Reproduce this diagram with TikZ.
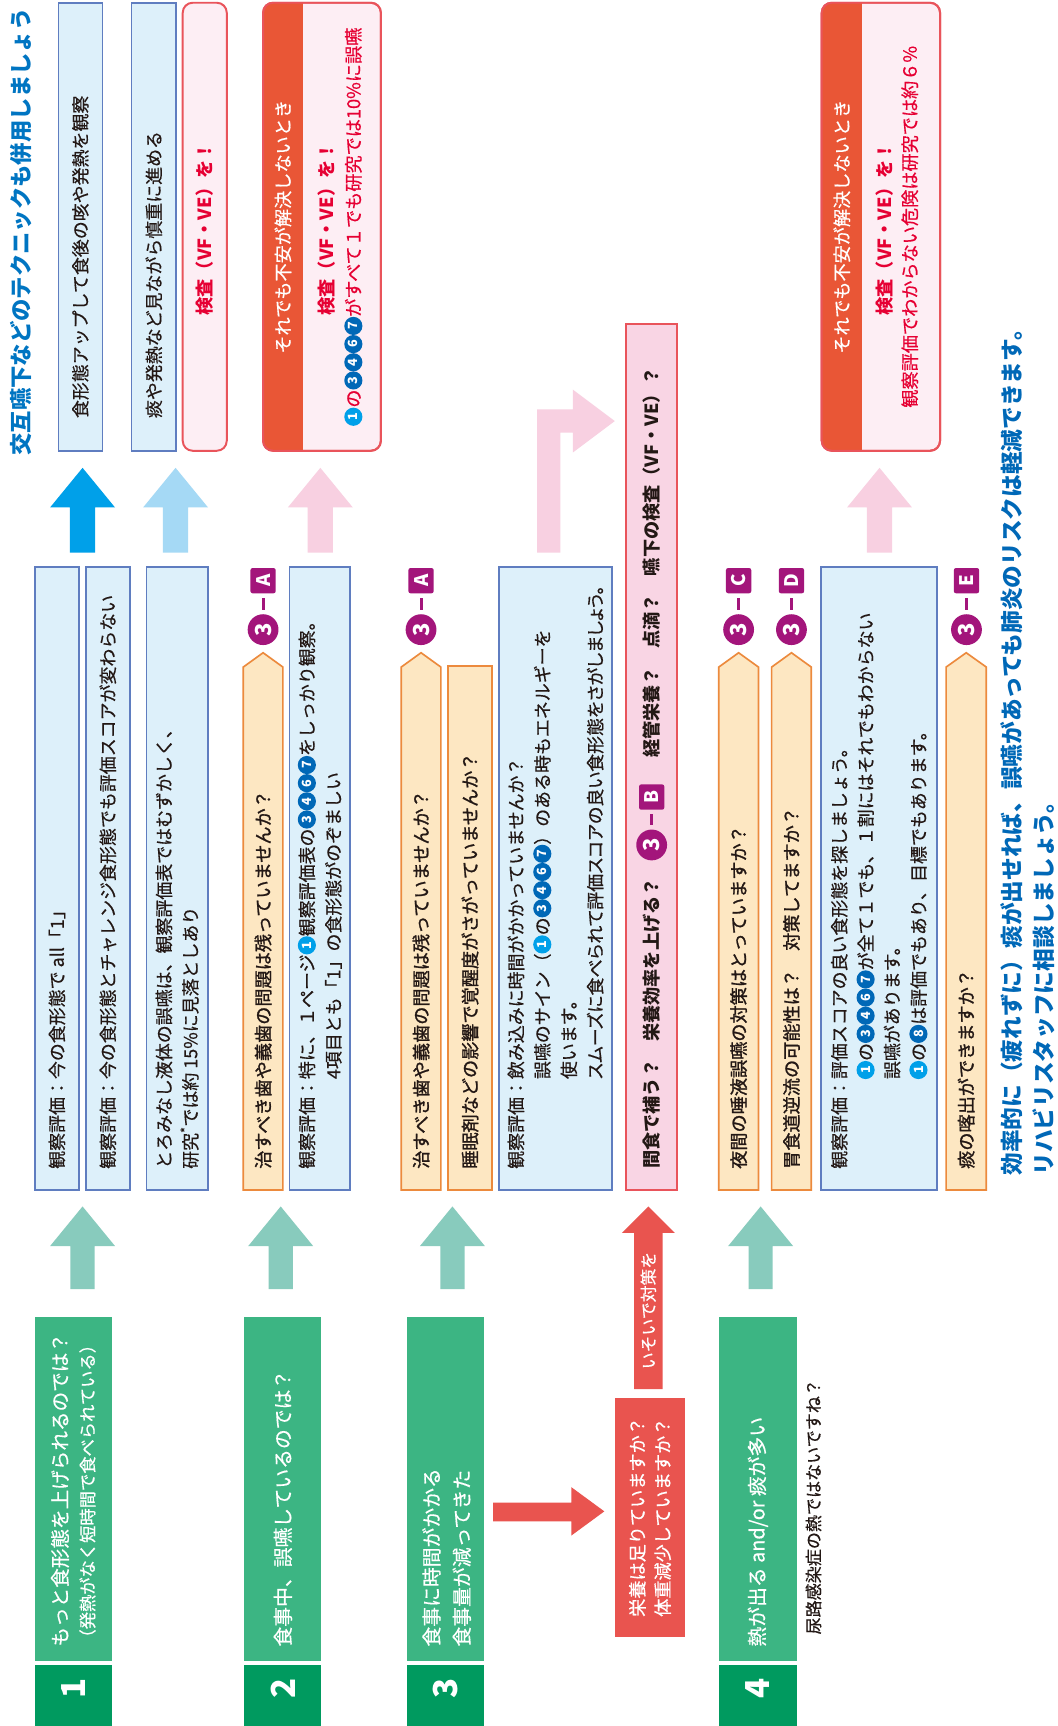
\documentclass[tikz,border=0pt]{standalone}
\usepackage{fontspec}
\setmainfont{Noto Sans CJK JP}[UprightFeatures={FakeBold=0.5}]
\newfontfamily\medfont{Noto Sans CJK JP}[FakeBold=1.3]
\newfontfamily\propfont{Noto Sans CJK JP}[RawFeature=+palt,FakeBold=0.5]
\usetikzlibrary{calc}
\definecolor{gbox}{RGB}{60,181,131}
\definecolor{gnum}{RGB}{0,154,95}
\definecolor{tealarr}{RGB}{136,203,189}
\definecolor{lbfill}{RGB}{221,240,250}
\definecolor{lbdraw}{RGB}{95,125,192}
\definecolor{orfill}{RGB}{253,231,194}
\definecolor{ordraw}{RGB}{236,138,61}
\definecolor{pkfill}{RGB}{249,213,228}
\definecolor{pkdraw}{RGB}{233,84,91}
\definecolor{pkfilltwo}{RGB}{253,238,244}
\definecolor{stripc}{RGB}{233,86,54}
\definecolor{redarr}{RGB}{233,84,79}
\definecolor{bluearr}{RGB}{0,160,233}
\definecolor{lbluearr}{RGB}{165,217,245}
\definecolor{pkarr}{RGB}{248,208,225}
\definecolor{ttl}{RGB}{0,117,194}
\definecolor{btxt}{RGB}{0,104,183}
\definecolor{redtxt}{RGB}{230,0,51}
\definecolor{cyn}{RGB}{0,160,233}
\definecolor{dblu}{RGB}{0,104,183}
\definecolor{mag}{RGB}{163,21,123}
\definecolor{txtc}{RGB}{35,24,21}
\newcommand\cc[2]{\tikz[baseline={([yshift=-6.3pt]cc.center)}]\node[circle, fill=#1, draw=none, text=white, inner sep=0pt, minimum size=16.5pt, anchor=center, font=\bfseries\fontsize{11.5}{11.5}\selectfont] (cc) {#2};}
\newcommand\cone{\cc{cyn}{1}}
\newcommand\cdk[1]{\cc{dblu}{#1}}
\newcommand\cq{\cdk{3}\cdk{4}\cdk{6}\cdk{7}}
\newcommand\ind{\hphantom{観察評価：}}
\newcommand\blkup[7]{\fill[#1] ({#2-#7},#5) -- ({#2-#7},#4) -- ({#2-#6},#4) -- (#2,#3) -- ({#2+#6},#4) -- ({#2+#7},#4) -- ({#2+#7},#5) -- cycle;}
\newcommand\pent[4]{%
  \draw[ordraw, fill=orfill, line width=1.5pt] (#2,1081) -- (#2,606) -- ({(#2+#3)/2},593) -- (#3,606) -- (#3,1081) -- cycle;
  \node[qtxt] (#1) at ({(#2+#3)/2},1062) {#4};}
\newcommand\badge[3]{%
  \node[bcirc] (#1c) at (#2,572) {3};
  \node[bsq] (#1s) at (#2,527.5) {#3};
  \draw[mag, line width=2.8pt, shorten >=4pt, shorten <=4pt] (#1c) -- (#1s);}
\tikzset{
  rot/.style={rotate=90},
  boxbase/.style={rot, inner sep=0pt, line width=1.5pt},
  bbox/.style={boxbase, draw=lbdraw, fill=lbfill},
  obox/.style={boxbase, draw=ordraw, fill=orfill},
  pkbox/.style={boxbase, draw=pkdraw, fill=pkfilltwo, line width=1.8pt, rounded corners=9pt},
  ptxt/.style={rot, anchor=west, inner sep=0pt, align=left, text=txtc, font=\fontsize{16.3}{24}\selectfont},
  qtxt/.style={ptxt, font=\medfont\fontsize{16.5}{24}\selectfont},
  ctxt/.style={rot, inner sep=0pt, font=\fontsize{16.5}{20}\selectfont},
  redk/.style={ctxt, text=redtxt, font=\bfseries\fontsize{16.5}{20}\selectfont},
  gtxt/.style={rot, anchor=west, inner sep=0pt, text=white, font=\fontsize{18}{22}\selectfont},
  gbx/.style={rot, fill=gbox, inner sep=0pt, minimum width=313pt, minimum height=70pt},
  gnm/.style={rot, fill=gnum, inner sep=0pt, minimum width=57pt, minimum height=70pt},
  numt/.style={rot, inner sep=0pt, text=white, font=\bfseries\fontsize{30}{30}\selectfont},
  bcirc/.style={rot, circle, fill=mag, minimum size=28pt, inner sep=0pt, text=white, font=\bfseries\fontsize{20}{20}\selectfont},
  bsq/.style={rot, fill=mag, rounded corners=2pt, minimum size=23pt, inner sep=0pt, text=white, font=\bfseries\fontsize{17}{17}\selectfont},
  btx/.style={rot, anchor=west, inner sep=0pt, text=btxt, font=\bfseries\fontsize{20.6}{24}\selectfont},
}
\begin{document}
\begin{tikzpicture}[x=1pt,y=-1pt]
\useasboundingbox (0,0) rectangle (961,1568);
\fill[white] (0,0) rectangle (961,1568);

% title
\node[rot, anchor=west, inner sep=0pt, text=ttl, font=\bfseries\fontsize{20.3}{24}\selectfont] (title) at (19,414) {交互嚥下などのテクニックも併用しましょう};

% ---------- top row ----------
\node[bbox, minimum width=407pt, minimum height=40pt] (a1) at (73,206) {};
\node[ptxt] (a1t) at (73,380) {食形態アップして食後の咳や発熱を観察};
\node[bbox, minimum width=407pt, minimum height=40.5pt] (a2) at (139.75,206) {};
\node[ptxt] (a2t) at (139.75,380) {痰や発熱など見ながら慎重に進める};
\node[pkbox, minimum width=407pt, minimum height=40pt] (a3) at (186,206) {};
\node[redk] (a3t) at (186,208) {検査（VF・VE）を！};

\node[pkbox, minimum width=407pt, minimum height=107pt] (a4) at (292.5,206) {};
\begin{scope}
  \clip[rounded corners=9pt] (239,2.5) rectangle (346,409.5);
  \fill[stripc] (239,0) rectangle (275,412);
\end{scope}
\draw[pkdraw, line width=1.8pt, rounded corners=9pt] (239,2.5) rectangle (346,409.5);
\node[ctxt, text=white] (a4s) at (257,206) {それでも不安が解決しないとき};
\node[redk] (a4k) at (297,208) {検査（VF・VE）を！};
\node[ctxt, text=redtxt] (a4r) at (321,206) {\cone の\cq がすべて１でも研究では10\%に誤嚥};

\node[pkbox, minimum width=407pt, minimum height=107.5pt] (a5) at (800.25,206) {};
\begin{scope}
  \clip[rounded corners=9pt] (746.5,2.5) rectangle (854,409.5);
  \fill[stripc] (746.5,0) rectangle (783,412);
\end{scope}
\draw[pkdraw, line width=1.8pt, rounded corners=9pt] (746.5,2.5) rectangle (854,409.5);
\node[ctxt, text=white] (a5s) at (764.75,206) {それでも不安が解決しないとき};
\node[redk] (a5k) at (804,208) {検査（VF・VE）を！};
\node[ctxt, text=redtxt] (a5r) at (826.5,206) {観察評価でわからない危険は研究では約６\%};

% top arrows
\blkup{bluearr}{75}{425}{461}{502}{29.5}{11.5}
\blkup{lbluearr}{159.5}{425}{461}{502}{29.5}{11.5}
\blkup{pkarr}{291}{425}{461}{502}{29.5}{11.5}
\blkup{pkarr}{799}{425}{461}{502}{29.5}{11.5}
\fill[pkarr] (488,502) -- (488,372) -- (520.5,372) -- (520.5,354) -- (558.5,382.5) -- (520.5,411) -- (520.5,393) -- (509,393) -- (509,502) -- cycle;

% ---------- middle row ----------
\node[bbox, minimum width=566pt, minimum height=40.5pt] (b1) at (51.75,798) {};
\node[ptxt] (b1t) at (51.75,1062) {観察評価：今の食形態で all「1」};
\node[bbox, minimum width=566pt, minimum height=40pt] (b2) at (98,798) {};
\node[ptxt] (b2t) at (98,1062) {観察評価：今の食形態とチャレンジ食形態でも評価スコアが変わらない};
\node[bbox, minimum width=566pt, minimum height=56pt] (b3) at (161,798) {};
\node[ptxt] (b3t) at (161,1062) {とろみなし液体の誤嚥は、観察評価表ではむずかしく、\\研究\textsuperscript{*}では約 15\%に見落としあり};

\pent{b4}{221}{257}{治すべき歯や義歯の問題は残っていませんか？}
\badge{bA}{239}{A}
\node[bbox, minimum width=566pt, minimum height=55pt] (b5) at (290.5,798) {};
\node[ptxt] (b5t) at (290.5,1062) {観察評価：特に、１ページ\cone 観察評価表の\cq をしっかり観察。\\\ind 4項目とも「1」の食形態がのぞましい};

\pent{b6}{364.5}{400.5}{治すべき歯や義歯の問題は残っていませんか？}
\badge{bB}{382.5}{A}
\node[obox, minimum width=476pt, minimum height=40pt] (b7) at (427,843) {};
\node[qtxt] (b7t) at (427,1062) {睡眠剤などの影響で覚醒度がさがっていませんか？};
\node[bbox, minimum width=566pt, minimum height=102.5pt] (b8) at (504.75,798) {};
\node[ptxt] (b8t) at (504.75,1062) {観察評価：飲み込みに時間がかかっていませんか？\\\ind 誤嚥のサイン（\cone の\cq ）のある時もエネルギーを\\\ind 使います。\\\ind{\propfont スムーズに食べられて評価スコアの良い食形態をさがしましょう。}};

\node[boxbase, draw=pkdraw, fill=pkfill, line width=2pt, minimum width=787pt, minimum height=46pt] (b9) at (592,687.5) {};
\node[qtxt, font=\bfseries\fontsize{16.5}{20}\selectfont] (b9a) at (592,1062) {間食で補う？　栄養効率を上げる？};
\node[bcirc] (b9c) at ($(b9a.east)+(0,-30)$) {3};
\node[bsq] (b9s) at ($(b9c)+(0,-43.5)$) {B};
\draw[mag, line width=2.8pt, shorten >=4pt, shorten <=4pt] (b9c) -- (b9s);
\node[qtxt, font=\bfseries\fontsize{16.5}{20}\selectfont] (b9b) at ($(b9s)+(0,-35.5)$) {経管栄養？　点滴？　嚥下の検査（VF・VE）？};

\pent{b10}{653}{689}{夜間の唾液誤嚥の対策はとっていますか？}
\badge{bC}{671}{C}
\pent{b11}{701}{737}{胃食道逆流の可能性は？　対策してますか？}
\badge{bD}{719}{D}
\node[bbox, minimum width=566pt, minimum height=105.5pt] (b12) at (798.75,798) {};
\node[ptxt] (b12t) at (798.75,1062) {観察評価：評価スコアの良い食形態を探しましょう。\\\ind\cone の\cq が全て１でも、１割にはそれでもわからない\\\ind 誤嚥があります。\\\ind\cone の\cdk{8}は評価でもあり、目標でもあります。};
\pent{b13}{859.5}{896}{痰の喀出ができますか？}
\badge{bE}{878}{E}

\node[btx] (bt1) at (919,1068) {効率的に（疲れずに）痰が出せれば、誤嚥があっても肺炎のリスクは軽減できます。};
\node[btx] (bt2) at (948,1068) {リハビリスタッフに相談しましょう。};

% teal arrows
\blkup{tealarr}{75}{1096}{1132}{1171}{29.5}{11}
\blkup{tealarr}{255}{1096}{1132}{1171}{29.5}{11}
\blkup{tealarr}{411}{1096}{1132}{1171}{29.5}{11}
\blkup{tealarr}{691}{1096}{1132}{1171}{29.5}{11}

% ---------- bottom row ----------
\node[gbx] (g1) at (67,1352.5) {};
\node[gnm] (n1) at (67,1541.5) {};
\node[numt] (n1t) at (67,1534) {1};
\node[gtxt, font=\fontsize{17.8}{22}\selectfont] (g1a) at (54.5,1496) {もっと食形態を上げられるのでは？};
\node[gtxt, font=\fontsize{15.7}{20}\selectfont] (g1b) at (79.5,1496) {（発熱がなく短時間で食べられている）};

\node[gbx] (g2) at (257,1352.5) {};
\node[gnm] (n2) at (257,1541.5) {};
\node[numt] (n2t) at (257,1534) {2};
\node[gtxt] (g2a) at (257,1496) {食事中、誤嚥しているのでは？};

\node[gbx] (g3) at (405,1352.5) {};
\node[gnm] (n3) at (405,1541.5) {};
\node[numt] (n3t) at (405,1534) {3};
\node[gtxt] (g3a) at (392,1496) {食事に時間がかかる};
\node[gtxt] (g3b) at (419.5,1496) {食事量が減ってきた};

\node[gbx, minimum height=71pt] (g4) at (688.5,1352.5) {};
\node[gnm, minimum height=71pt] (n4) at (688.5,1541.5) {};
\node[numt] (n4t) at (688.5,1534) {4};
\node[gtxt] (g4a) at (688.5,1496) {熱が出る and/or 痰が多い};
\node[rot, anchor=west, inner sep=0pt, text=txtc, font=\fontsize{15.5}{20}\selectfont] (uti) at (739,1485) {尿路感染症の熱ではないですね？};

% red arrows and box
\fill[redarr] (448,1365) -- (519,1365) -- (519,1351) -- (549,1373) -- (519,1395) -- (519,1382) -- (448,1382) -- cycle;
\node[rot, fill=redarr, inner sep=0pt, minimum width=217pt, minimum height=63pt] (rb) at (590.5,1378.5) {};
\node[rot, anchor=west, inner sep=0pt, align=left, text=white, font=\fontsize{16.5}{23}\selectfont] (rbt) at (590.5,1469) {栄養は足りていますか？\\体重減少していますか？};
\blkup{redarr}{589}{1096}{1120}{1262}{24}{13}
\node[rot, inner sep=0pt, text=white, font=\fontsize{15.3}{18}\selectfont] (hurry) at (589,1190.5) {いそいで対策を};
\end{tikzpicture}
\end{document}
